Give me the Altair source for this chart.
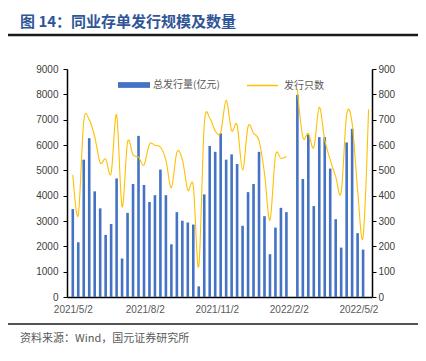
import altair as alt
import pandas as pd

title_text = "图 14：同业存单发行规模及数量"
source_text = "资料来源：Wind，国元证券研究所"
bar_name = "总发行量(亿元)"
line_name = "发行只数"

dates = [d.strftime("%Y-%m-%d") for d in pd.date_range("2021-05-02", periods=55, freq="7D")]

amount = [3470, 2160, 5420, 6270, 4170, 3500, 2450, 2880, 4680, 1520,
          3320, 4460, 6360, 4420, 3750, 4020, 5030, 4020, 2080, 3350,
          3010, 2940, 2860, 420, 4050, 5960, 5730, 6460, 5420, 5630,
          5250, 2810, 4140, 4460, 5730, 3190, 1690, 2740, 3520, 3350,
          None, 7980, 4660, 6410, 3590, 6310, 6310, 5070, 3070, 1950,
          6100, 6640, 2520, 1870, None]

count = [482, 322, 693, 700, 633, 530, 545, 488, 719, 356,
         611, 561, 552, 521, 603, 599, 591, 541, 431, 571,
         543, 422, 438, 121, 679, 706, 656, 649, 776, 657,
         679, 501, 673, 646, 617, 488, 303, 557, 547, 555,
         None, 821, 631, 646, 590, 749, 620, 541, 475, 413,
         719, 686, 422, 237, 740]

x_ticks = [(2021, 5, 2), (2021, 8, 2), (2021, 11, 2), (2022, 2, 2), (2022, 5, 2)]

df = pd.DataFrame({"date": dates, "amount": amount, "count": count,
                   "bname": bar_name, "lname": line_name})

FONT = "Liberation Sans"
CJK = "Noto Sans CJK SC"

xenc = alt.X(
    "date:T",
    scale=alt.Scale(type="utc",
                    domain=[alt.DateTime(year=2021, month=5, date=1, utc=True),
                            alt.DateTime(year=2022, month=5, date=13, utc=True)]),
    axis=alt.Axis(values=[alt.DateTime(year=y, month=m, date=d, utc=True) for y, m, d in x_ticks],
                  labelExpr="utcFormat(datum.value, '%Y/%-m/%-d')", title=None, grid=False,
                  ticks=False, labelPadding=7, domainColor="black", domainWidth=1.5,
                  labelFont=FONT, labelFontSize=10, labelColor="#595959"),
)

bars = alt.Chart(df).mark_bar(width=2.6, clip=True).encode(
    x=xenc,
    y=alt.Y("amount:Q", scale=alt.Scale(domain=[0, 9000]),
            axis=alt.Axis(orient="left", values=list(range(0, 9001, 1000)), format="d",
                          title=None, grid=False, domainColor="black", domainWidth=1.5,
                          tickColor="black", tickSize=4, labelPadding=5,
                          labelFont=FONT, labelFontSize=10, labelColor="#404040")),
    color=alt.Color("bname:N", scale=alt.Scale(domain=[bar_name], range=["#4472C4"]),
                    legend=alt.Legend(title=None, orient="none", legendX=51, legendY=0,
                                      symbolType="M-1,-0.18H1V0.18H-1Z", symbolSize=1024,
                                      symbolStrokeWidth=0, labelFont=CJK, labelFontSize=10,
                                      labelColor="#595959", labelOffset=3)),
)

line = alt.Chart(df).mark_line(strokeWidth=1.1, interpolate="cardinal", clip=True).encode(
    x=alt.X("date:T"),
    y=alt.Y("count:Q", scale=alt.Scale(domain=[0, 900]),
            axis=alt.Axis(orient="right", values=list(range(0, 901, 100)), format="d",
                          title=None, grid=False, domainColor="black", domainWidth=1.5,
                          tickColor="black", tickSize=4, labelPadding=2,
                          labelFont=FONT, labelFontSize=10, labelColor="#404040")),
    stroke=alt.Stroke("lname:N", scale=alt.Scale(domain=[line_name], range=["#FFC000"]),
                      legend=alt.Legend(title=None, orient="none", legendX=179, legendY=0,
                                        symbolType="stroke", symbolSize=961,
                                        symbolStrokeWidth=1.5, labelFont=CJK, labelFontSize=10,
                                        labelColor="#595959", labelOffset=5)),
)

one = pd.DataFrame({"t": [title_text], "s": [source_text]})

hdr_rule = alt.Chart(one).mark_rule(color="#1a1a1a", strokeWidth=2.5).encode(
    x=alt.value(-59), x2=alt.value(352), y=alt.value(-34))
ftr_rule = alt.Chart(one).mark_rule(color="#1a1a1a", strokeWidth=1.5).encode(
    x=alt.value(-59), x2=alt.value(352), y=alt.value(255))
title_txt = alt.Chart(one).mark_text(align="left", baseline="middle", font=CJK,
                                     fontSize=15, fontWeight="bold", color="#2F5597").encode(
    text="t:N", x=alt.value(-47), y=alt.value(-47))
src_txt = alt.Chart(one).mark_text(align="left", baseline="middle", font=CJK,
                                   fontSize=11, color="#595959").encode(
    text="s:N", x=alt.value(-47), y=alt.value(270))

chart = alt.layer(bars, line, hdr_rule, ftr_rule, title_txt, src_txt).resolve_scale(
    y="independent"
).properties(
    width=305, height=228,
    autosize=alt.AutoSizeParams(type="none"),
    padding={"left": 59, "top": 61, "right": 46, "bottom": 54},
).configure_view(stroke=None)

chart.save("out.html", embed_options={"renderer": "svg", "actions": False})
